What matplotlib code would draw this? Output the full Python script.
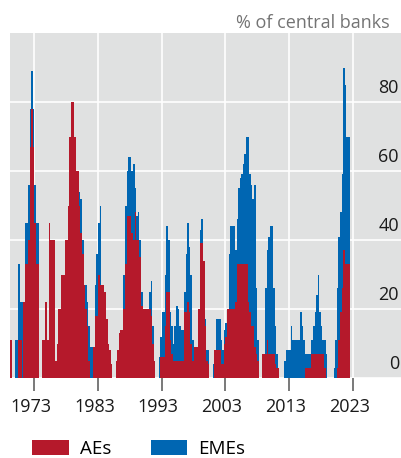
import numpy as np
import matplotlib
matplotlib.use('Agg')
import matplotlib.pyplot as plt
from matplotlib.transforms import ScaledTranslation

plt.rcParams['font.family'] = ['Open Sans', 'DejaVu Sans']

# share of central banks tightening, quarterly from 1969 Q1
start_year = 1969
aes = [
    11, 11, 0, 0,    # 1969
    0, 0, 11, 11,    # 1970
    0, 22, 33, 33,   # 1971
    40, 67, 78, 67,  # 1972
    45, 33, 33, 0,   # 1973
    0, 11, 11, 22,   # 1974
    11, 45, 40, 40,  # 1975
    40, 5, 10, 20,   # 1976
    20, 30, 30, 40,  # 1977
    40, 50, 70, 80,  # 1978
    80, 70, 60, 60,  # 1979
    50, 42, 36, 27,  # 1980
    20, 15, 5, 0,    # 1981
    0, 9, 18, 18,    # 1982
    30, 27, 27, 27,  # 1983
    25, 17, 10, 8,   # 1984
    4, 0, 0, 5,      # 1985
    8, 13, 14, 14,   # 1986
    20, 33, 47, 47,  # 1987
    47, 42, 40, 48,  # 1988
    40, 40, 35, 21,  # 1989
    20, 20, 20, 20,  # 1990
    20, 18, 10, 5,   # 1991
    0, 0, 0, 6,      # 1992
    6, 6, 15, 25,    # 1993
    25, 11, 7, 5,    # 1994
    5, 5, 5, 5,      # 1995
    5, 5, 19, 19,    # 1996
    22, 19, 10, 5,   # 1997
    9, 9, 9, 20,     # 1998
    39, 39, 34, 15,  # 1999
    5, 4, 0, 0,      # 2000
    0, 8, 8, 8,      # 2001
    8, 4, 4, 10,     # 2002
    12, 20, 20, 20,  # 2003
    20, 20, 22, 33,  # 2004
    33, 33, 33, 33,  # 2005
    33, 33, 22, 19,  # 2006
    15, 15, 9, 7,    # 2007
    5, 0, 0, 7,      # 2008
    7, 7, 11, 7,     # 2009
    7, 7, 7, 4,      # 2010
    3, 3, 0, 0,      # 2011
    0, 0, 0, 0,      # 2012
    0, 0, 0, 0,      # 2013
    0, 0, 0, 0,      # 2014
    0, 0, 3, 3,      # 2015
    3, 3, 7, 7,      # 2016
    7, 7, 7, 7,      # 2017
    7, 7, 3, 0,      # 2018
    0, 0, 0, 0,      # 2019
    0, 0, 3, 11,     # 2020
    19, 26, 37, 33,  # 2021
    33, 33,          # 2022
]
emes = [
    0, 0, 0, 0,      # 1969
    11, 11, 22, 11,  # 1970
    22, 0, 12, 12,   # 1971
    16, 11, 11, 11,  # 1972
    11, 12, 12, 0,   # 1973
    0, 0, 0, 0,      # 1974
    0, 0, 0, 0,      # 1975
    0, 0, 0, 0,      # 1976
    0, 0, 0, 0,      # 1977
    0, 0, 0, 0,      # 1978
    0, 0, 0, 0,      # 1979
    4, 10, 4, 0,     # 1980
    7, 7, 10, 9,     # 1981
    9, 0, 9, 18,     # 1982
    15, 23, 0, 0,    # 1983
    0, 0, 0, 0,      # 1984
    0, 0, 0, 0,      # 1985
    0, 0, 0, 0,      # 1986
    10, 17, 13, 17,  # 1987
    17, 18, 22, 7,   # 1988
    7, 8, 5, 4,      # 1989
    0, 0, 0, 0,      # 1990
    5, 10, 5, 0,     # 1991
    0, 0, 6, 6,      # 1992
    13, 13, 15, 19,  # 1993
    15, 8, 8, 5,     # 1994
    10, 16, 15, 10,  # 1995
    9, 9, 6, 17,     # 1996
    23, 19, 20, 6,   # 1997
    0, 0, 0, 0,      # 1998
    4, 7, 0, 2,      # 1999
    3, 4, 0, 0,      # 2000
    4, 0, 9, 9,      # 2001
    9, 7, 4, 4,      # 2002
    4, 0, 16, 24,    # 2003
    24, 24, 15, 13,  # 2004
    22, 25, 26, 29,  # 2005
    32, 37, 48, 40,  # 2006
    41, 37, 47, 19,  # 2007
    6, 0, 0, 0,      # 2008
    0, 19, 26, 34,   # 2009
    37, 37, 19, 11,  # 2010
    4, 0, 0, 0,      # 2011
    0, 5, 8, 8,      # 2012
    8, 15, 11, 11,   # 2013
    11, 11, 11, 19,  # 2014
    15, 11, 4, 4,    # 2015
    4, 4, 4, 8,      # 2016
    12, 17, 23, 12,  # 2017
    8, 4, 8, 7,      # 2018
    0, 0, 0, 0,      # 2019
    3, 11, 23, 30,   # 2020
    29, 33, 53, 52,  # 2021
    37, 37,          # 2022
]
tick_years = [1973, 1983, 1993, 2003, 2013, 2023]
y_ticks = [0, 20, 40, 60, 80]

red = '#b5192b'
blue = '#0066b2'

ae = np.array(aes, dtype=float)
total = ae + np.array(emes, dtype=float)
edges = start_year + 0.25 * np.arange(len(aes) + 1)

fig = plt.figure(figsize=(4.01, 4.58), dpi=100)
ax = fig.add_axes([10 / 401, 80 / 458, 391 / 401, 345 / 458])
ax.set_facecolor('#e0e1e1')

# stacked step areas: AEs at the bottom, EMEs on top
ax.stairs(ae, edges, baseline=0, fill=True, color=red, linewidth=0,
          label='AEs', zorder=2)
ax.stairs(total, edges, baseline=ae, fill=True, color=blue, linewidth=0,
          label='EMEs', zorder=2)

ax.set_xlim(1969.18, 2030.58)
ax.set_ylim(0, 100)
ax.set_xticks(tick_years)
ax.set_yticks(y_ticks)
ax.grid(True, color='white', linewidth=1.2, zorder=0)
ax.set_axisbelow(True)
for s in ax.spines.values():
    s.set_visible(False)

ax.tick_params(axis='x', length=9.5, width=1.1, color='#555555', pad=5,
               labelsize=13, labelcolor='#1a1a1a')
ax.yaxis.tick_right()
ax.tick_params(axis='y', length=0, pad=-1.5, labelsize=13, labelcolor='#1a1a1a')
up = ScaledTranslation(0, 0.05, fig.dpi_scale_trans)
for lab in ax.get_yticklabels():
    lab.set_ha('right')
    lab.set_va('bottom')
    lab.set_transform(lab.get_transform() + up)
left = ScaledTranslation(-0.035, 0, fig.dpi_scale_trans)
for lab in ax.get_xticklabels():
    lab.set_transform(lab.get_transform() + left)

fig.text(390 / 401, 1 - 28 / 458, '% of central banks', ha='right',
         va='baseline', color='#747474', fontsize=13)

fig.legend(loc='lower left', bbox_to_anchor=(32 / 401, 0.0), ncol=2,
           frameon=False, handlelength=1.95, handleheight=0.8,
           handletextpad=0.6, columnspacing=2.1, borderpad=0,
           borderaxespad=0, fontsize=13.5)

fig.savefig('out.png', dpi=100)
